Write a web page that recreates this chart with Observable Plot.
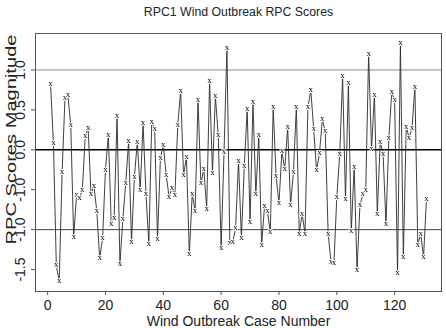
<!DOCTYPE html>
<html>
<head>
<meta charset="utf-8">
<script src="https://cdn.jsdelivr.net/npm/d3@7"></script>
<script src="https://cdn.jsdelivr.net/npm/@observablehq/plot@0.6"></script>
<style>
  html, body { margin: 0; padding: 0; background: #fff; }
</style>
</head>
<body>
<div id="chart"></div>
<script>
// RPC1 scores for each wind outbreak case (case numbers 1..131)
const caseNumbers = d3.range(1, 132);
const rpcScores = [
  0.82, 0.09, -1.45, -1.65, -0.28, 0.65, 0.68, 0.31, -1.09, -0.57,
  -0.61, -0.50, 0.17, 0.27, -0.56, -0.45, -0.77, -1.36, -1.11, -0.25,
  0.19, -0.93, -0.85, 0.42, -1.43, -0.87, -0.42, 0.11, -1.16, -0.34,
  0.10, -0.51, 0.33, -0.55, -1.18, 0.35, 0.26, -1.12, -0.10, 0.06,
  -0.32, -0.59, -0.48, -0.57, 0.31, 0.74, -0.32, -0.09, -1.31, -0.55,
  -0.77, 0.62, -0.42, -0.24, -0.74, 0.86, -0.29, 0.67, 0.18, -1.23,
  -0.03, 1.27, -1.17, -1.16, -0.98, -0.14, -1.10, -0.21, 0.51, -0.90,
  0.60, -0.56, 0.18, -1.19, -0.71, -0.77, -1.03, 0.54, -0.33, -0.67,
  -0.02, -0.24, 0.28, -0.69, -0.28, 0.54, -1.05, -0.80, -1.05, 0.53,
  0.75, 0.26, -0.26, -0.04, 0.38, 0.23, -1.05, -1.41, -1.42, -0.59,
  -0.06, 0.92, -0.62, 0.83, -1.02, -0.22, -1.51, -0.69, -0.56, -0.51,
  1.20, 0.01, 0.69, -0.80, 0.10, -0.05, -0.93, 0.15, 0.72, 0.62,
  -1.55, 1.34, -1.35, 0.29, 0.15, 0.27, 0.79, -1.19, -1.05, -1.34,
  -0.62
];

// Axis ticks and their printed labels
const xTicks = [0, 20, 40, 60, 80, 100, 120];
const yTicks = [-1.5, -1.0, -0.5, 0.0, 0.5, 1.0];
const yTickLabels = ["-1.5", "-1.0", "-1.0", "0.0", "0.5", "1.0"];
const referenceLines = [1, 0, -1];

const titleText = "RPC1 Wind Outbreak RPC Scores";
const xLabel = "Wind Outbreak Case Number";
const yLabel = "RPC Scores Magnitude";
const pointSymbol = "x";

const points = caseNumbers.map((c, k) => ({case: c, score: rpcScores[k]}));
const yTickRows = yTicks.map((v, k) => ({v, label: yTickLabels[k]}));

const sans = "Liberation Sans";
const serif = "Liberation Serif";

const chart = Plot.plot({
  width: 446,
  height: 328,
  marginLeft: 35,
  marginRight: 5,
  marginTop: 33,
  marginBottom: 37,
  style: {fontFamily: sans, background: "#fff", color: "#000"},
  x: {domain: [-4.2, 136.2]},
  y: {domain: [-1.775, 1.457]},
  marks: [
    // horizontal reference lines at +1, 0 and -1
    Plot.ruleY([referenceLines[0]], {stroke: "#8a8a8a", strokeWidth: 1}),
    Plot.ruleY([referenceLines[1]], {stroke: "#000", strokeWidth: 1.6}),
    Plot.ruleY([referenceLines[2]], {stroke: "#444", strokeWidth: 1}),
    // score series: line with an "x" at every case, the line broken around each symbol
    Plot.line(points, {x: "case", y: "score", stroke: "#2a2a2a", strokeWidth: 0.9}),
    Plot.text(points, {
      x: "case", y: "score", text: () => pointSymbol,
      fontFamily: serif, fontSize: 9, fill: "#000",
      stroke: "#fff", strokeWidth: 1.4,
      lineAnchor: "middle", dy: -1, className: "markers"
    }),
    Plot.frame({stroke: "#555", strokeWidth: 1}),
    // x axis
    Plot.axisX({ticks: xTicks, tickSize: 4, tickFormat: () => "", label: null, stroke: "#555"}),
    Plot.text(xTicks, {x: d => d, text: d => String(d), frameAnchor: "bottom", dy: 14,
      lineAnchor: "middle", fontFamily: sans, fontSize: 14, fill: "#222"}),
    Plot.text([xLabel], {frameAnchor: "bottom", dy: 30.5, lineAnchor: "middle",
      fontFamily: sans, fontSize: 14, fill: "#222"}),
    // y axis
    Plot.axisY({ticks: yTicks, tickSize: 4, tickFormat: () => "", label: null, stroke: "#555"}),
    Plot.text(yTickRows, {y: "v", text: "label", frameAnchor: "left", dx: -15, rotate: -90,
      textAnchor: "middle", lineAnchor: "middle", fontFamily: sans, fontSize: 14, fill: "#222"}),
    Plot.text([yLabel], {frameAnchor: "left", dx: -24, dy: -23, rotate: -90, textAnchor: "middle",
      lineAnchor: "middle", fontFamily: sans, fontSize: 15, fill: "#222",
      className: "ylabel"}),
    // title
    Plot.text([titleText], {frameAnchor: "top", dy: -21, lineAnchor: "middle",
      fontFamily: sans, fontSize: 12.3, fill: "#222"})
  ]
});

// the vertical axis title is set in a tall, narrow face
d3.select(chart).selectAll(".ylabel text")
  .attr("textLength", 210)
  .attr("lengthAdjust", "spacingAndGlyphs");

// keep the point symbols a plain neutral grey-black
d3.select(chart).selectAll("g.markers").style("filter", "grayscale(1)");

document.getElementById("chart").appendChild(chart);
</script>
</body>
</html>
